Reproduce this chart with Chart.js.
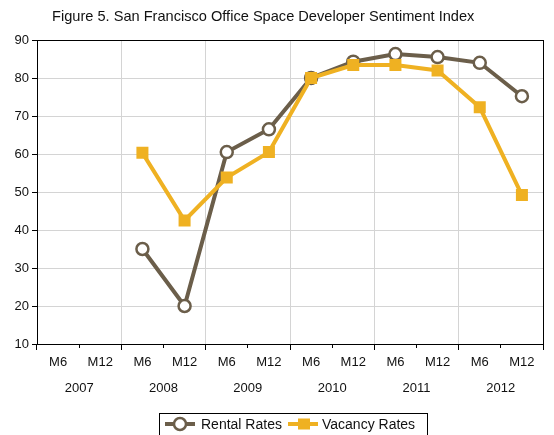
<!DOCTYPE html>
<html>
<head>
<meta charset="utf-8">
<script src="https://cdn.jsdelivr.net/npm/chart.js@4/dist/chart.umd.min.js"></script>
<style>
  html, body { margin: 0; padding: 0; background: #fff; }
  #wrap { width: 554px; height: 435px; position: relative; }
</style>
</head>
<body>
<div id="wrap"><canvas id="chart"></canvas></div>
<script>
// --- data ---
const halfLabels = ['M6', 'M12', 'M6', 'M12', 'M6', 'M12', 'M6', 'M12', 'M6', 'M12', 'M6', 'M12'];
const yearLabels = ['2007', '2008', '2009', '2010', '2011', '2012'];
const rentalRates = [null, null, 35, 20, 60.5, 66.5, 80, 84.3, 86.3, 85.5, 84, 75.2];
const vacancyRates = [null, null, 60.3, 42.5, 53.8, 60.5, 80, 83.4, 83.4, 82, 72.3, 49.2];
const yTicks = { min: 10, max: 90, step: 10 };

const TITLE = 'Figure 5. San Francisco Office Space Developer Sentiment Index';
const FONT = '"Liberation Sans", Arial, sans-serif';
const RENTAL = '#6b5e4a';
const VACANCY = '#efb122';
const GRID = '#d4d4d4';

// frame, title and boxed legend
const extras = {
    id: 'extras',
    afterDraw(chart) {
        const { ctx, chartArea: a } = chart;
        ctx.save();
        ctx.strokeStyle = '#000';
        ctx.lineWidth = 1;
        ctx.strokeRect(Math.round(a.left) + 0.5, Math.round(a.top) + 0.5,
            Math.round(a.right - a.left), Math.round(a.bottom - a.top));

        ctx.fillStyle = '#111';
        ctx.font = '14.6px ' + FONT;
        ctx.textBaseline = 'middle';
        ctx.textAlign = 'left';
        ctx.fillText(TITLE, 52, 17);

        // legend
        const ly = 424;
        ctx.strokeStyle = '#000';
        ctx.lineWidth = 1;
        ctx.strokeRect(159.5, 413.5, 268, 30);

        ctx.lineWidth = 4;
        ctx.strokeStyle = RENTAL;
        ctx.beginPath(); ctx.moveTo(165, ly); ctx.lineTo(195, ly); ctx.stroke();
        ctx.lineWidth = 2.5;
        ctx.fillStyle = '#fff';
        ctx.beginPath(); ctx.arc(180, ly, 6, 0, Math.PI * 2); ctx.fill(); ctx.stroke();

        ctx.lineWidth = 4;
        ctx.strokeStyle = VACANCY;
        ctx.beginPath(); ctx.moveTo(288, ly); ctx.lineTo(318, ly); ctx.stroke();
        ctx.fillStyle = VACANCY;
        ctx.fillRect(298, ly - 5.5, 12, 11);

        ctx.fillStyle = '#111';
        ctx.font = '14px ' + FONT;
        ctx.fillText('Rental Rates', 201, ly + 1);
        ctx.fillText('Vacancy Rates', 322, ly + 1);
        ctx.restore();
    }
};

new Chart(document.getElementById('chart'), {
    type: 'line',
    data: {
        labels: halfLabels,
        datasets: [
            {
                label: 'Rental Rates',
                data: rentalRates,
                order: 2,
                borderColor: RENTAL,
                borderWidth: 4,
                pointRadius: 6,
                pointBorderWidth: 2.5,
                pointBackgroundColor: '#fff',
                pointBorderColor: RENTAL,
                tension: 0
            },
            {
                label: 'Vacancy Rates',
                data: vacancyRates,
                order: 1,
                borderColor: VACANCY,
                borderWidth: 4,
                pointStyle: 'rect',
                pointRadius: 8.5,
                pointBorderWidth: 0,
                pointBackgroundColor: VACANCY,
                pointBorderColor: VACANCY,
                tension: 0
            }
        ]
    },
    options: {
        responsive: true,
        maintainAspectRatio: false,
        animation: false,
        layout: { padding: { top: 40, right: 11, left: 0, bottom: 36 } },
        plugins: {
            legend: { display: false },
            title: { display: false },
            tooltip: { enabled: false }
        },
        scales: {
            x: {
                type: 'category',
                offset: true,
                afterFit(scale) { scale.height = 30; },
                border: { color: '#000', width: 1 },
                grid: {
                    offset: true,
                    color: (c) => (c.index > 0 && c.index < 12 && c.index % 2 === 0) ? GRID : 'rgba(0,0,0,0)',
                    lineWidth: 1,
                    tickColor: '#000',
                    tickLength: 6,
                    tickBorderDash: (c) => (c.index === undefined || c.index % 2 === 0) ? [] : [3, 20]
                },
                ticks: {
                    color: '#111',
                    font: { family: FONT, size: 13 },
                    padding: 5,
                    maxRotation: 0,
                    autoSkip: false
                }
            },
            years: {
                type: 'category',
                position: 'bottom',
                labels: yearLabels,
                offset: true,
                afterFit(scale) { scale.height = 25; },
                border: { display: false },
                grid: { display: false, drawTicks: false },
                ticks: {
                    color: '#111',
                    font: { family: FONT, size: 13 },
                    padding: 7,
                    maxRotation: 0,
                    autoSkip: false
                }
            },
            y: {
                min: yTicks.min,
                max: yTicks.max,
                afterFit(scale) { scale.width = 37; },
                border: { color: '#000', width: 1 },
                grid: {
                    color: GRID,
                    tickColor: '#000',
                    tickLength: 5
                },
                ticks: {
                    stepSize: yTicks.step,
                    color: '#111',
                    font: { family: FONT, size: 13 },
                    padding: 3
                }
            }
        }
    },
    plugins: [extras]
});
</script>
</body>
</html>
